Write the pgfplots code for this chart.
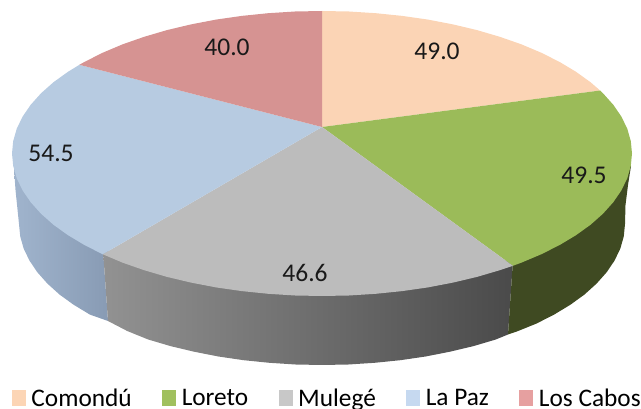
\documentclass[border=0pt]{standalone}
\usepackage{fontspec}
\setmainfont{Carlito}
\usepackage{pgfplots}
\pgfplotsset{compat=1.18}
\definecolor{cPeach}{HTML}{FBD4B5}
\definecolor{cGreen}{HTML}{9BBB59}
\definecolor{cGray}{HTML}{BCBCBC}
\definecolor{cBlue}{HTML}{B7CBE1}
\definecolor{cRed}{HTML}{D69392}
\definecolor{lPeach}{HTML}{FCD5B5}
\definecolor{lGreen}{HTML}{A0C05E}
\definecolor{lGray}{HTML}{C8C8C8}
\definecolor{lBlue}{HTML}{C6D9F0}
\definecolor{lRed}{HTML}{E6A0A0}
\definecolor{sBlueL}{HTML}{A0B4CD}
\definecolor{sBlueR}{HTML}{889BB4}
\definecolor{sGrayL}{HTML}{929292}
\definecolor{sGrayR}{HTML}{4A4A4A}
\definecolor{sGreen}{HTML}{3F4A22}
\begin{document}
\begin{tikzpicture}
\useasboundingbox (0,0) rectangle (641pt,409pt);
\begin{axis}[
  at={(0,0)}, anchor=south west,
  scale only axis, width=641pt, height=409pt,
  xmin=0, xmax=641, ymin=0, ymax=409, y dir=reverse,
  hide axis, clip=false,
  legend columns=5,
  legend style={draw=none, fill=none, at={(axis cs:12,398)}, anchor=west,
    font=\fontsize{25.3}{26}\selectfont, inner sep=0pt, outer sep=0pt,
    /tikz/every even column/.style={column sep=28.5pt}},
  legend cell align=left,
  every axis plot/.append style={forget plot},
]
% --- side walls
\addplot[draw=none, left color=sBlueL, right color=sBlueR] coordinates {
(14,168)(15.5,190)(19,224)(20.2,236.3)(23.6,248.4)(29.4,260.5)(37.3,272.2)(47.4,283.6)(59.6,294.6)(73.7,304.8)(89.9,314.6)(108,321)(103,250)(50,200)} -- cycle;
\addplot[draw=none, left color=sGrayL, right color=sGrayR] coordinates {
(108,321)(127.2,331)(148.2,339.5)(170.5,346.1)(194,351.7)(218.4,356.5)(243.6,360.2)(269.4,362.8)(295.6,364.5)(322,365)(348.4,364.5)(374.6,362.8)(400.4,360.2)(425.6,356.5)(450,351.7)(473.5,346.1)(495.8,339.5)(508,334.5)(513,260)(322,270)(103,250)} -- cycle;
\addplot[draw=none, fill=sGreen] coordinates {
(508,334.5)(516.8,331.5)(536.2,323.7)(554.1,314.6)(570.3,304.8)(584.4,294.6)(596.6,283.6)(606.7,272.2)(614.6,260.5)(620.4,248.4)(623.8,236.3)(625,224)(625.5,205)(628,185)(631,166)(600,150)(513,260)} -- cycle;
% --- top face
\addplot[draw=none, fill=cPeach] coordinates {
(322,127)(322,11)(349,11.5)(375.8,13.2)(402.2,15.9)(428,19.6)(453,24.4)(477,30.1)(499.8,36.8)(521.3,44.3)(541.2,52.7)(559.5,61.9)(576,71.8)(590.5,82.2)(600.1,90.5)} -- cycle;
\addplot[draw=none, fill=cGreen] coordinates {
(322,127)(600.1,90.5)(603,93.3)(613.3,104.8)(621.4,116.6)(627.3,128.8)(630.8,141.1)(632,153.5)(630.8,165.9)(627.3,178.2)(621.4,190.4)(613.3,202.2)(603,213.7)(590.5,224.8)(576,235.2)(559.5,245.1)(541.2,254.3)(521.3,262.7)(512.9,265.8)} -- cycle;
\addplot[draw=none, fill=cGray] coordinates {
(322,127)(512.9,265.8)(499.8,270.2)(477,276.9)(453,282.6)(428,287.4)(402.2,291.1)(375.8,293.8)(349,295.5)(322,296)(295,295.5)(268.2,293.8)(241.8,291.1)(216,287.4)(191,282.6)(167,276.9)(144.2,270.2)(122.7,262.7)(102.8,254.3)} -- cycle;
\addplot[draw=none, fill=cBlue] coordinates {
(322,127)(102.8,254.3)(84.5,245.1)(68,235.2)(53.5,224.8)(41,213.7)(30.7,202.2)(22.6,190.4)(16.7,178.2)(13.2,165.9)(12,153.5)(13.2,141.1)(16.7,128.8)(22.6,116.6)(30.7,104.8)(41,93.3)(53.5,82.2)(68,71.8)(79.4,64.8)} -- cycle;
\addplot[draw=none, fill=cRed] coordinates {
(322,127)(79.4,64.8)(84.5,61.9)(102.8,52.7)(122.7,44.3)(144.2,36.8)(167,30.1)(191,24.4)(216,19.6)(241.8,15.9)(268.2,13.2)(295,11.5)(322,11)} -- cycle;
% --- value labels
\begin{scope}[every node/.style={font=\fontsize{25.5}{26}\selectfont, text=black!90, inner sep=0pt}]
\node at (axis cs:437,51) {49.0};
\node at (axis cs:584,175) {49.5};
\node at (axis cs:305,273) {46.6};
\node at (axis cs:51,153) {54.5};
\node at (axis cs:227,47) {40.0};
\end{scope}
% --- legend
\pgfplotsset{legend image code/.code={\fill[#1] (0pt,-7.5pt) rectangle (14pt,7.5pt); \path (17.5pt,0pt);}}
\addlegendimage{fill=lPeach,draw=none}\addlegendentry{Comondú}
\addlegendimage{fill=lGreen,draw=none}\addlegendentry{Loreto}
\addlegendimage{fill=lGray,draw=none}\addlegendentry{Mulegé}
\addlegendimage{fill=lBlue,draw=none}\addlegendentry{La Paz}
\addlegendimage{fill=lRed,draw=none}\addlegendentry{Los Cabos}
\end{axis}
\end{tikzpicture}
\end{document}
